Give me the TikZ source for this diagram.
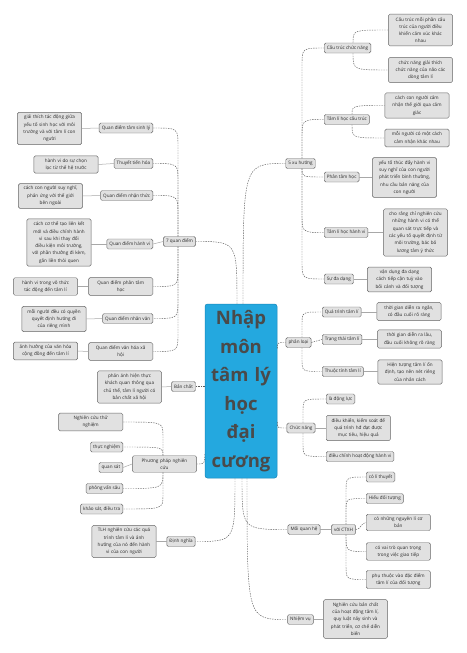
\documentclass[tikz,border=0pt]{standalone}
\usepackage{fontspec}
\setmainfont{Open Sans}
\usepackage{xcolor}
\usetikzlibrary{calc}

\definecolor{nodefill}{HTML}{E1E1E1}
\definecolor{nodeline}{HTML}{666666}
\definecolor{textgray}{HTML}{262626}
\definecolor{rootblue}{HTML}{24A8DF}
\definecolor{rootline}{HTML}{1B86B8}
\definecolor{roottext}{HTML}{4A4A4A}
\definecolor{linkgray}{HTML}{5A5A5A}
\definecolor{tiegray}{HTML}{A8A8A8}

\begin{document}
\begin{tikzpicture}[x=1pt, y=-1pt,
	topic/.style={draw=nodeline, fill=nodefill, rounded corners=1.5pt, line width=0.45pt,
		inner xsep=2.6pt, inner ysep=1.6pt, minimum height=10pt,
		font=\fontsize{4.6}{7.3}\selectfont, text=textgray},
	note/.style={topic, text width=59pt, align=center, inner ysep=2.8pt},
	core/.style={draw=rootline, fill=rootblue, rounded corners=2.5pt, line width=0.5pt,
		minimum width=72pt, minimum height=174pt, text width=68pt, align=center, inner sep=0pt,
		font=\fontsize{18.5}{28.5}\selectfont\bfseries, text=roottext},
	link/.style={draw=linkgray, line width=0.45pt, dash pattern=on 1.4pt off 1.1pt},
	tie/.style={draw=tiegray, line width=0.5pt}]
	\fill[white] (0,0) rectangle (466,653);
	\useasboundingbox (0,0) rectangle (466,653);

	\node[core] (root) at (241,391) {Nhập\\môn\\tâm lý\\học\\đại\\cương};

	% trai
	\node[topic] (qd) at (179.5,241.5) {7 quan điểm};
	\node[topic, anchor=east] (qd1) at (153,128) {Quan điểm tâm sinh lý};
	\node[note] (qd1n) at (49.5,128.5) {giải thích tác động giữa\\yếu tố sinh học với môi\\trường và với tâm lí con\\người};
	\node[topic, anchor=east] (qd2) at (153,163.5) {Thuyết tiến hóa};
	\node[note] (qd2n) at (66,164.5) {hành vi do sự chọn\\lọc từ thế hệ trước};
	\node[topic, anchor=east] (qd3) at (153,195.5) {Quan điểm nhận thức};
	\node[note] (qd3n) at (50.5,196) {cách con người suy nghĩ,\\phản ứng với thế giới\\bên ngoài};
	\node[topic, anchor=east] (qd4) at (153,244) {Quan điểm hành vi};
	\node[note] (qd4n) at (59,242.5) {cách cơ thể tạo liên kết\\mới và điều chỉnh hành\\vi sau khi thay đổi\\điều kiện môi trường,\\với phần thưởng đi kèm,\\gắn liền thói quen};
	\node[note, anchor=east] (qd5) at (153,286.5) {Quan điểm phân tâm\\học};
	\node[note] (qd5n) at (45.5,286.5) {hành vi trong vô thức\\tác động đến tâm lí};
	\node[topic, anchor=east] (qd6) at (153,318.5) {Quan điểm nhân văn};
	\node[note] (qd6n) at (54,319) {mỗi người đều có quyền\\quyết định hướng đi\\của riêng mình};
	\node[note, anchor=east] (qd7) at (153,351.5) {Quan điểm văn hóa xã\\hội};
	\node[note] (qd7n) at (45.5,351) {ảnh hưởng của văn hóa\\cộng đồng đến tâm lí};

	\node[topic] (bc) at (183.5,386.5) {Bản chất};
	\node[note] (bcn) at (129.5,387) {phản ánh hiện thực\\khách quan thông qua\\chủ thể, tâm lí người có\\bản chất xã hội};

	\node[note] (pp) at (164.5,464) {Phương pháp nghiên\\cứu};
	\node[note, anchor=east] (pp1) at (123,422) {Nghiên cứu thử\\nghiệm};
	\node[topic, anchor=east] (pp2) at (123,447) {thực nghiệm};
	\node[topic, anchor=east] (pp3) at (123,467.5) {quan sát};
	\node[topic, anchor=east] (pp4) at (123,488.5) {phỏng vấn sâu};
	\node[topic, anchor=east] (pp5) at (123,509) {khảo sát, điều tra};

	\node[topic] (dn) at (181,541.5) {Định nghĩa};
	\node[note] (dnn) at (124,541.5) {TLH nghiên cứu các quá\\trình tâm lí và ảnh\\hưởng của nó đến hành\\vi của con người};

	% phai
	\node[topic] (xh) at (300.5,163.5) {5 xu hướng};
	\node[topic, anchor=west] (xh1) at (324,48) {Cấu trúc chức năng};
	\node[note] (xh1a) at (420.5,30) {Cấu trúc mỗi phần cấu\\trúc của người điều\\khiển cảm xúc khác\\nhau};
	\node[note] (xh1b) at (420.5,70) {chức năng giải thích\\chức năng của não các\\dòng tâm lí};
	\node[topic, anchor=west] (xh2) at (324,119.5) {Tâm lí học cấu trúc};
	\node[note] (xh2a) at (417,105.5) {cách con người cảm\\nhận thế giới qua cảm\\giác};
	\node[note] (xh2b) at (417,138) {mỗi người có một cách\\cảm nhận khác nhau};
	\node[topic, anchor=west] (xh3) at (324,177) {Phân tâm học};
	\node[note] (xh3n) at (404.5,177.5) {yếu tố thúc đẩy hành vi\\suy nghĩ của con người\\phát triển bình thường,\\nhu cầu bản năng của\\con người};
	\node[topic, anchor=west] (xh4) at (324,232.5) {Tâm lí học hành vi};
	\node[note] (xh4n) at (415.5,232.5) {cho rằng chỉ nghiên cứu\\những hành vi có thể\\quan sát trực tiếp và\\các yếu tố quyết định từ\\môi trường, bác bỏ\\lương tâm ý thức};
	\node[topic, anchor=west] (xh5) at (324,279) {Sự đa dạng};
	\node[note] (xh5n) at (399.5,279.5) {vận dụng đa dạng\\cách tiếp cận tuỳ vào\\bối cảnh và đối tượng};

	\node[topic] (pl) at (298.5,342.5) {phân loại};
	\node[topic, anchor=west] (pl1) at (322,312) {Quá trình tâm lí};
	\node[note] (pl1n) at (409,311.5) {thời gian diễn ra ngắn,\\có đầu cuối rõ ràng};
	\node[topic, anchor=west] (pl2) at (322,339.5) {Trạng thái tâm lí};
	\node[note] (pl2n) at (409.5,339) {thời gian diễn ra lâu,\\đầu cuối không rõ ràng};
	\node[topic, anchor=west] (pl3) at (322,371.5) {Thuộc tính tâm lí};
	\node[note] (pl3n) at (410,372) {Hiện tượng tâm lí ổn\\định, tạo nên nét riêng\\của nhân cách};

	\node[topic] (cn) at (301,428) {Chức năng};
	\node[topic, anchor=west] (cn1) at (326,399) {là động lực};
	\node[note, anchor=west] (cn2) at (326,428) {điều khiển, kiểm soát để\\quá trình hđ đạt được\\mục tiêu, hiệu quả};
	\node[topic, anchor=west] (cn3) at (326,456.5) {điều chỉnh hoạt động hành vi};

	\node[topic] (qh) at (304,529.5) {Mối quan hệ};
	\node[topic] (ctxh) at (343.5,529.5) {với CTXH};
	\node[topic, anchor=west] (qh1) at (366,477) {có lí thuyết};
	\node[topic, anchor=west] (qh2) at (366,498.5) {Hiểu đối tượng};
	\node[note, anchor=west] (qh3) at (366,522.5) {có những nguyên lí cơ\\bản};
	\node[note, anchor=west] (qh4) at (366,551.5) {có vai trò quan trọng\\trong việc giao tiếp};
	\node[note, anchor=west] (qh5) at (366,579.5) {phụ thuộc vào đặc điểm\\tâm lí của đối tượng};

	\node[topic] (nv) at (300.5,619.5) {Nhiệm vụ};
	\node[note] (nvn) at (355.5,619) {Nghiên cứu bản chất\\của hoạt động tâm lí,\\quy luật nảy sinh và\\phát triển, cơ chế diễn\\biến};

	% nhanh chinh
	\coordinate (rt1) at ($(root.north)+(-4,0)$);
	\coordinate (rt2) at ($(root.north)+(2,0)$);
	\coordinate (rb1) at ($(root.south)+(-6,0)$);
	\coordinate (rb2) at ($(root.south)+(1,0)$);
	\coordinate (rb3) at ($(root.south)+(6,0)$);
	\draw[link] (rt1) .. controls (rt1 |- qd.east) .. (qd.east);
	\draw[link] (rt2) .. controls (rt2 |- xh.west) .. (xh.west);
	\draw[link] (root.west |- bc.east) -- (bc.east);
	\draw[link] ($(root.west |- pp.east)+(0,-10)$) .. controls (root.west |- pp.east) .. (pp.east);
	\draw[link] (rb1) .. controls (rb1 |- dn.east) .. (dn.east);
	\draw[link] ($(root.east |- pl.west)+(0,6)$) .. controls (root.east |- pl.west) .. (pl.west);
	\draw[link] ($(root.east |- cn.west)+(0,-6)$) .. controls (root.east |- cn.west) .. (cn.west);
	\draw[link] (rb2) .. controls (rb2 |- qh.west) .. (qh.west);
	\draw[link] (rb3) .. controls (rb3 |- nv.west) .. (nv.west);

	% 7 quan diem
	\coordinate (qdt) at (178,0);
	\draw[link] (qdt |- qd.north) -- ($(qdt |- qd1.east)+(0,18)$) .. controls (qdt |- qd1.east) .. (qd1.east);
	\draw[link] (qdt |- qd.north) -- ($(qdt |- qd2.east)+(0,18)$) .. controls (qdt |- qd2.east) .. (qd2.east);
	\draw[link] (qdt |- qd.north) -- ($(qdt |- qd3.east)+(0,18)$) .. controls (qdt |- qd3.east) .. (qd3.east);
	\draw[tie] (qd.west) -- (qd4.east);
	\draw[link] (qdt |- qd.south) -- ($(qdt |- qd5.east)+(0,-18)$) .. controls (qdt |- qd5.east) .. (qd5.east);
	\draw[link] (qdt |- qd.south) -- ($(qdt |- qd6.east)+(0,-18)$) .. controls (qdt |- qd6.east) .. (qd6.east);
	\draw[link] (qdt |- qd.south) -- ($(qdt |- qd7.east)+(0,-18)$) .. controls (qdt |- qd7.east) .. (qd7.east);
	\draw[tie] (qd1.west) -- (qd1n.east);
	\draw[tie] (qd2.west) -- (qd2n.east);
	\draw[tie] (qd3.west) -- (qd3n.east);
	\draw[tie] (qd4.west) -- (qd4n.east |- qd4.west);
	\draw[tie] (qd5.west) -- (qd5n.east);
	\draw[tie] (qd6.west) -- (qd6n.east);
	\draw[tie] (qd7.west) -- (qd7n.east);
	\draw[tie] (bc.west) -- (bcn.east);
	\draw[tie] (dn.west) -- (dnn.east);

	% phuong phap
	\coordinate (ppt) at (163,0);
	\draw[link] (ppt |- pp.north) -- ($(ppt |- pp1.east)+(0,14)$) .. controls (ppt |- pp1.east) .. (pp1.east);
	\draw[link] (ppt |- pp.north) .. controls (ppt |- pp2.east) .. (pp2.east);
	\draw[tie] (pp.west) -- (pp3.east);
	\draw[link] (ppt |- pp.south) .. controls (ppt |- pp4.east) .. (pp4.east);
	\draw[link] (ppt |- pp.south) -- ($(ppt |- pp5.east)+(0,-14)$) .. controls (ppt |- pp5.east) .. (pp5.east);

	% 5 xu huong
	\coordinate (xht) at (302,0);
	\draw[link] (xht |- xh.north) -- ($(xht |- xh1.west)+(0,18)$) .. controls (xht |- xh1.west) .. (xh1.west);
	\draw[link] (xht |- xh.north) -- ($(xht |- xh2.west)+(0,18)$) .. controls (xht |- xh2.west) .. (xh2.west);
	\draw[link] (xht |- xh.south) .. controls (xht |- xh3.west) .. (xh3.west);
	\draw[link] (xht |- xh.south) -- ($(xht |- xh4.west)+(0,-18)$) .. controls (xht |- xh4.west) .. (xh4.west);
	\draw[link] (xht |- xh.south) -- ($(xht |- xh5.west)+(0,-18)$) .. controls (xht |- xh5.west) .. (xh5.west);
	\coordinate (t1) at (353,0);
	\coordinate (t2) at (352,0);
	\draw[link] (t1 |- xh1.north) .. controls (t1 |- xh1a.west) .. (xh1a.west);
	\draw[link] (t1 |- xh1.south) .. controls (t1 |- xh1b.west) .. (xh1b.west);
	\draw[link] (t2 |- xh2.north) .. controls (t2 |- xh2a.west) .. (xh2a.west);
	\draw[link] (t2 |- xh2.south) .. controls (t2 |- xh2b.west) .. (xh2b.west);
	\draw[tie] (xh3.east) -- (xh3n.west |- xh3.east);
	\draw[tie] (xh4.east) -- (xh4n.west);
	\draw[tie] (xh5.east) -- (xh5n.west |- xh5.east);

	% phan loai
	\coordinate (plt) at (302,0);
	\draw[link] (plt |- pl.north) -- ($(plt |- pl1.west)+(0,12)$) .. controls (plt |- pl1.west) .. (pl1.west);
	\draw[link] (pl.east) -- (pl2.west);
	\draw[link] (plt |- pl.south) -- ($(plt |- pl3.west)+(0,-12)$) .. controls (plt |- pl3.west) .. (pl3.west);
	\draw[tie] (pl1.east) -- (pl1n.west |- pl1.east);
	\draw[tie] (pl2.east) -- (pl2n.west |- pl2.east);
	\draw[tie] (pl3.east) -- (pl3n.west |- pl3.east);

	% chuc nang
	\coordinate (cnt) at (303,0);
	\draw[link] (cnt |- cn.north) -- ($(cnt |- cn1.west)+(0,12)$) .. controls (cnt |- cn1.west) .. (cn1.west);
	\draw[tie] (cn.east) -- (cn2.west);
	\draw[link] (cnt |- cn.south) -- ($(cnt |- cn3.west)+(0,-12)$) .. controls (cnt |- cn3.west) .. (cn3.west);

	% moi quan he
	\coordinate (ctt) at (346,0);
	\draw[tie] (qh.east) -- (ctxh.west);
	\draw[link] (ctt |- ctxh.north) -- ($(ctt |- qh1.west)+(0,14)$) .. controls (ctt |- qh1.west) .. (qh1.west);
	\draw[link] (ctt |- ctxh.north) -- ($(ctt |- qh2.west)+(0,12)$) .. controls (ctt |- qh2.west) .. (qh2.west);
	\draw[link] (ctxh.east) .. controls (361,529.5) and (361,522.5) .. (qh3.west);
	\draw[link] (ctt |- ctxh.south) .. controls (ctt |- qh4.west) .. (qh4.west);
	\draw[link] (ctt |- ctxh.south) -- ($(ctt |- qh5.west)+(0,-14)$) .. controls (ctt |- qh5.west) .. (qh5.west);
	\draw[tie] (nv.east) -- (nvn.west |- nv.east);
\end{tikzpicture}
\end{document}
